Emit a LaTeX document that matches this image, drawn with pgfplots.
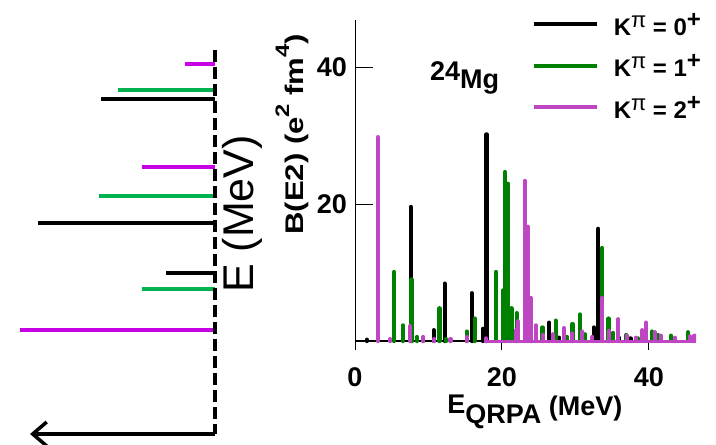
\documentclass[border=0pt]{standalone}
\usepackage{fontspec}
\setmainfont{Liberation Sans}
\newfontfamily\stretchsans{Liberation Sans}[FakeStretch=1.22]
\usepackage{pgfplots}
\pgfplotsset{compat=1.18}
\usetikzlibrary{arrows.meta}

\definecolor{kzero}{RGB}{0,0,0}
\definecolor{kone}{RGB}{0,128,0}
\definecolor{ktwo}{RGB}{190,70,195}
\definecolor{lvlgreen}{RGB}{0,178,80}
\definecolor{lvlviolet}{RGB}{200,0,230}

\newcommand\bigbf{\fontsize{27bp}{32bp}\selectfont\bfseries}
\newcommand\legbf{\fontsize{24bp}{28bp}\selectfont\bfseries}
\newcommand\Kpi[1]{K\raisebox{8bp}{\fontsize{22bp}{24bp}\selectfont\mdseries π} = #1\raisebox{8bp}{+}}

\begin{document}
\begin{tikzpicture}
\useasboundingbox (0,0) rectangle (716bp,445bp);

% ---------- level scheme ----------
\begin{axis}[at={(0bp,11bp)}, anchor=south west, scale only axis,
  width=215bp, height=434bp,
  xmin=0, xmax=33.077, ymin=0, ymax=43.4, x dir=reverse,
  axis lines=none, clip=false]
  \addplot[xcomb, kzero, line width=3.4bp] coordinates {(17.5,33.5) (27.2,21.1) (7.5,16.1)};
  \addplot[xcomb, lvlgreen, line width=3.4bp] coordinates {(14.9,34.4) (17.8,23.8) (11.2,14.5)};
  \addplot[xcomb, lvlviolet, line width=3.4bp] coordinates {(4.6,37.0) (11.2,26.7) (30.0,10.4)};
  \addplot[black, line width=4.5bp, dash pattern=on 12bp off 5bp] coordinates {(0,38.4) (0,0)};
  \addplot[black, line width=3.5bp, -{Straight Barb[length=14bp,width=24bp]}]
    coordinates {(0,0) (28.46,0)};
  \node[rotate=90, anchor=base west, inner sep=0pt,
        font=\fontsize{43bp}{48bp}\selectfont] at (axis description cs:1.177,0.325) {E (MeV)};
\end{axis}

% ---------- x ticks of the spectrum ----------
\begin{axis}[at={(355bp,95bp)}, anchor=south west, scale only axis,
  width=341bp, height=330bp,
  xmin=0, xmax=46.4, ymin=-1.3, ymax=46.9,
  axis x line*=bottom, axis y line=none,
  x axis line style={draw=none},
  xtick={0,20,40}, ytick=\empty,
  tick align=inside, major tick length=9bp,
  tick style={line width=1bp, black},
  /pgf/number format/assume math mode=true,
  xticklabel style={font=\bigbf, inner sep=0pt, yshift=-17bp},
  xlabel={E\raisebox{-10bp}{QRPA} \raisebox{-2bp}{(MeV)}},
  xlabel style={font=\bigbf, inner sep=0pt, anchor=base west,
     at={(axis description cs:0.27,-0.191)}},
]
\end{axis}

% ---------- B(E2) spectrum ----------
\begin{axis}[at={(355bp,95bp)}, anchor=south west, scale only axis,
  width=341bp, height=330bp,
  xmin=0, xmax=46.4, ymin=-1.3, ymax=46.9,
  axis y line*=left, axis x line=none,
  axis line style={-, line width=1bp},
  xtick=\empty, ytick={20,40},
  tick align=inside, major tick length=18bp,
  tick style={line width=1bp, black},
  /pgf/number format/assume math mode=true,
  yticklabel style={font=\bigbf, inner sep=0pt, xshift=-8bp},
  ylabel={\stretchsans\bfseries\fontsize{25.5bp}{30bp}\selectfont
     B(E2) (e\raisebox{14bp}{\fontsize{19.5bp}{20bp}\selectfont 2} fm\raisebox{14bp}{\fontsize{19.5bp}{20bp}\selectfont 4})},
  ylabel style={inner sep=0pt, anchor=base west, at={(axis description cs:-0.1525,0.3485)}},
  legend cell align=left,
  legend style={at={(axis description cs:0.519,1.015)}, anchor=north west,
    draw=none, fill=none, inner sep=0pt, row sep=21.5bp, column sep=15bp,
    font=\legbf, cells={anchor=base west},
    nodes={inner sep=0pt, text height=20bp, text depth=0pt}},
  legend image code/.code={\draw[#1, line width=3.6bp] (0bp,11bp) -- (63bp,11bp);},
]
  % common baseline
  \addplot[black, line width=2bp, forget plot] coordinates {(0,0) (46.4,0)};

  % K = 0+
  \addplot[ycomb, kzero, line width=4.2bp, line cap=round, forget plot] coordinates {
    (1.6,0.2) (7.6,19.6) (10.7,1.6) (12.2,8.4) (15.9,7.0) (17.4,1.8) (17.9,30.2)
    (24.0,0.6) (26.4,2.7) (27.8,0.5) (32.5,2.0) (33.1,16.4) (35.9,0.5) (37.5,0.4)};

  % K = 1+
  \addplot[ycomb, kone, line width=4.2bp, line cap=round, forget plot] coordinates {
    (5.3,10.1) (6.5,2.3) (7.7,9.0) (8.4,0.6) (9.3,0.5) (11.5,4.8) (12.4,0.3)
    (15.2,1.4) (16.3,3.3) (19.2,10.1) (20.1,7.4) (20.4,24.7) (20.8,23.0) (21.3,4.8)
    (22.0,4.1) (25.5,2.0) (27.3,3.0) (28.9,0.6) (29.6,2.5) (30.6,3.9) (31.3,1.0)
    (33.6,13.6) (34.5,3.3) (35.1,1.2) (36.9,0.9) (38.5,0.4) (40.4,1.4) (41.2,0.9)
    (43.0,0.8) (45.3,1.3)};

  % K = 2+
  \addplot[ycomb, ktwo, line width=4.2bp, line cap=round, forget plot] coordinates {
    (3.1,29.8) (4.8,0.3) (7.5,2.2) (9.3,0.6) (10.8,0.3) (13.0,0.3) (15.2,0.6)
    (17.8,0.4) (21.9,1.6) (22.2,2.9) (23.1,23.4) (23.5,16.7) (23.9,6.3) (24.6,2.3)
    (25.6,0.9) (26.9,1.0) (28.4,1.9) (29.5,1.1) (30.9,1.4) (32.3,0.6) (33.6,6.3)
    (34.6,1.5) (35.8,3.2) (37.0,0.8) (38.2,0.5) (39.1,1.6) (39.6,2.7) (40.8,1.3)
    (41.6,0.8) (43.5,0.5) (45.6,0.7) (46.2,0.8)};
  \addplot[ktwo, line width=3bp, forget plot] coordinates {(17.5,0) (46.4,0)};

  \node[anchor=base west, inner sep=0pt, font=\bigbf] at (axis cs:10.2,36.9)
     {\raisebox{8bp}{24}Mg};

  \addlegendimage{kzero}
  \addlegendentry{\Kpi{0}}
  \addlegendimage{kone}
  \addlegendentry{\Kpi{1}}
  \addlegendimage{ktwo}
  \addlegendentry{\Kpi{2}}
\end{axis}
\end{tikzpicture}
\end{document}
